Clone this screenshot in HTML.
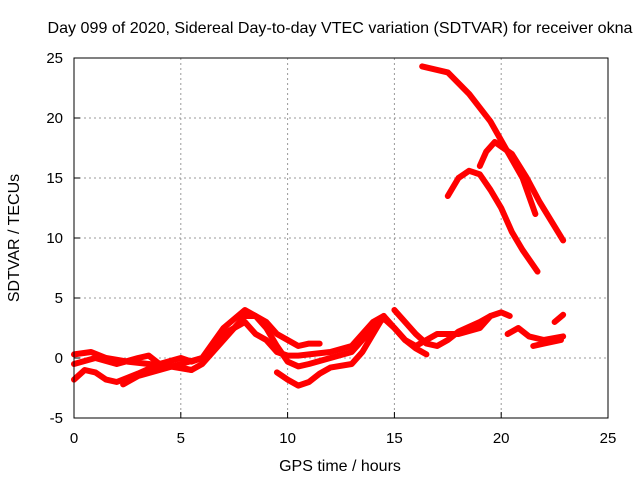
<!DOCTYPE html>
<html><head><meta charset="utf-8"><style>
body{margin:0;background:#fff}
svg text{font-family:"Liberation Sans",sans-serif;font-size:15px;fill:#000}
svg text.big{font-size:16px}
</style></head><body>
<svg id="chart" width="640" height="480" viewBox="0 0 640 480">
<rect width="640" height="480" fill="#fff"/>
<text class="big" x="340" y="33" text-anchor="middle" textLength="585" lengthAdjust="spacingAndGlyphs">Day 099 of 2020, Sidereal Day-to-day VTEC variation (SDTVAR) for receiver okna</text>
<g id="grid"></g>
<g id="series"></g>
<rect x="74" y="58" width="534" height="360" fill="none" stroke="#000" stroke-width="1"/>
<g id="ticks"></g>
<text class="big" x="340" y="471" text-anchor="middle">GPS time / hours</text>
<text class="big" x="19" y="238" text-anchor="middle" transform="rotate(-90 19 238)">SDTVAR / TECUs</text>
</svg>
<script>
const xTicks=[0,5,10,15,20,25];
const yTicks=[-5,0,5,10,15,20,25];
const trackA=[[16.3,24.3],[17.5,23.8],[18.5,22],[19.5,19.7],[20.2,17.5],[21,15],[21.3,13.5],[21.6,12]];
const trackB=[[19,16],[19.3,17.2],[19.7,18],[20.5,17],[21.2,15],[21.8,13],[22.9,9.8]];
const trackC=[[17.5,13.5],[18,15],[18.5,15.6],[19,15.3],[19.5,14],[20,12.5],[20.5,10.5],[21,9],[21.7,7.2]];
const track1=[[0,0.3],[0.8,0.5],[1.5,0],[2.5,-0.3],[3.5,-0.5],[4.5,-0.7],[5.5,-1],[6,-0.5],[7,1.5],[8,3.5],[8.5,3.5],[9,2.5],[9.5,1],[10,-0.3],[10.5,-0.7],[11,-0.5],[12,0],[13,0.5],[14,2.5],[14.5,3.3],[15,2.5],[15.5,1.5],[16,1],[16.5,1.5],[17,2],[18,2],[19,2.5],[19.5,3.5],[20,3.8],[20.4,3.5]];
const track2=[[0,-1.8],[0.5,-1],[1,-1.2],[1.5,-1.8],[2,-2],[3,-1.3],[4,-0.5],[5,0],[5.5,-0.3],[6,0],[7,2],[7.5,2.5],[8,3],[8.5,2],[9,1.5],[9.5,0.5],[10,0.2],[10.5,0.2],[11,0.3],[12,0.5],[13,1],[13.5,2],[14,3],[14.5,3.5],[15,2.5],[15.5,1.5],[16,0.8],[16.5,0.3]];
const track3=[[0,-0.5],[1,0],[2,-0.5],[3,0],[3.5,0.2],[4,-0.5],[5,-0.8],[5.5,-1]];
const track4=[[2.3,-2.2],[3,-1.5],[4,-1],[5,-0.5],[6,0],[7,2.5],[8,4],[9,3],[9.5,2],[10,1.5],[10.5,1],[11,1.2],[11.5,1.2]];
const track5=[[9.5,-1.2],[10,-1.8],[10.5,-2.3],[11,-2],[11.5,-1.3],[12,-0.8],[13,-0.5],[13.5,0.5],[14,2],[14.5,3.5]];
const track6=[[15,4],[15.5,3],[16,2],[16.5,1.2],[17,1],[17.5,1.5],[18,2.2],[19,3],[19.5,3.5]];
const track7=[[20.3,2],[20.8,2.5],[21.3,1.8],[22,1.5],[22.9,1.8]];
const track8=[[21.5,1],[22,1.2],[22.8,1.5]];
const track9=[[22.5,3],[22.9,3.6]];
const tracks=[trackA,trackB,trackC,track1,track2,track3,track4,track5,track6,track7,track8,track9];
const X=v=>74+(v-0)*(534/25);
const Y=v=>418-(v+5)*(360/30);
const NS="http://www.w3.org/2000/svg";
const grid=document.getElementById('grid'),ticks=document.getElementById('ticks'),ser=document.getElementById('series');
function mk(tag,attrs,parent){const e=document.createElementNS(NS,tag);for(const k in attrs)e.setAttribute(k,attrs[k]);parent.appendChild(e);return e;}
xTicks.forEach(t=>{
 if(t>0&&t<25){const g=mk('line',{x1:X(t),x2:X(t),y1:58,y2:418,stroke:'#999','stroke-dasharray':'2,3'},grid);
 
 }
 const l=mk('line',{x1:X(t),x2:X(t),y1:418,y2:412,stroke:'#000'},ticks);
 
 
 const tx=mk('text',{x:X(t),y:443,'text-anchor':'middle'},ticks);tx.textContent=t;
 
 
});
yTicks.forEach(t=>{
 if(t>-5&&t<25){const g=mk('line',{x1:74,x2:608,y1:Y(t),y2:Y(t),stroke:'#999','stroke-dasharray':'2,3'},grid);
 
 }
 const l=mk('line',{x1:74,x2:80,y1:Y(t),y2:Y(t),stroke:'#000'},ticks);
 
 
 const tx=mk('text',{x:63,y:Y(t)+5,'text-anchor':'end'},ticks);tx.textContent=t;
 
 
});
tracks.forEach(tr=>{
 const p=mk('polyline',{points:tr.map(d=>X(d[0])+','+Y(d[1])).join(' '),fill:'none',stroke:'#f00','stroke-width':6,'stroke-linejoin':'round','stroke-linecap':'round'},ser);
 
 
});
</script>
</body></html>
